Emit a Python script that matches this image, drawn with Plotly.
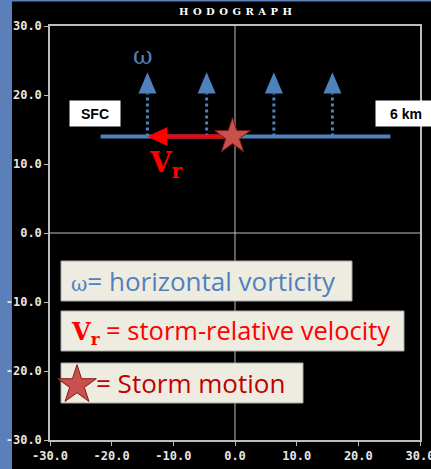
import plotly.graph_objects as go

# ---------------- data ----------------
x_ticks = [-30, -20, -10, 0, 10, 20, 30]
y_ticks = [-30, -20, -10, 0, 10, 20, 30]
tick_labels_x = ["-30.0", "-20.0", "-10.0", "0.0", "10.0", "20.0", "30.0"]
tick_labels_y = ["-30.0", "-20.0", "-10.0", "0.0", "10.0", "20.0", "30.0"]

hodo_x = [-21.8, 25.2]          # straight-line hodograph (SFC -> 6 km)
hodo_y = [14.0, 14.0]

vort_x = [-14.2, -4.6, 6.3, 15.8]   # horizontal vorticity vectors
vort_base = 14.0
vort_top = 20.2
vort_tip = 23.3

storm_x = [-0.4]
storm_y = [14.0]

vr_tip_x = -14.2                 # storm-relative velocity arrow tip

# ---------------- geometry ----------------
W, H = 431, 469
ML, MR, MT, MB = 50, 11, 26, 29
PW, PH = W - ML - MR, H - MT - MB
XR = [-30, 30]
YR = [-30, 30]
px_x = PW / (XR[1] - XR[0])
px_y = PH / (YR[1] - YR[0])


def px2paper_x(p):
    return (p - ML) / PW


def px2paper_y(p):
    return 1 - (p - MT) / PH


BLUE = "#4f81bd"
RED = "#ff0000"
DARKRED = "#c00000"
AXC = "#bdbdbd"

fig = go.Figure()

# hodograph line
fig.add_trace(go.Scatter(x=hodo_x, y=hodo_y, mode="lines",
                         line=dict(color=BLUE, width=4), hoverinfo="skip"))

# vorticity arrows: dotted shafts + triangular heads
head_hw = 9 / px_x
for vx in vort_x:
    fig.add_trace(go.Scatter(x=[vx, vx], y=[vort_base, vort_top], mode="lines",
                             line=dict(color=BLUE, width=3, dash="dot"),
                             hoverinfo="skip"))
    fig.add_trace(go.Scatter(x=[vx - head_hw, vx + head_hw, vx, vx - head_hw],
                             y=[vort_top, vort_top, vort_tip, vort_top],
                             mode="lines", fill="toself", fillcolor=BLUE,
                             line=dict(color=BLUE, width=0), hoverinfo="skip"))

# storm-relative velocity arrow
vr_head_len = 20 / px_x
vr_head_hh = 9.5 / px_y
fig.add_trace(go.Scatter(x=[storm_x[0], vr_tip_x + vr_head_len], y=[storm_y[0], storm_y[0]],
                         mode="lines", line=dict(color=RED, width=4), hoverinfo="skip"))
fig.add_trace(go.Scatter(x=[vr_tip_x + vr_head_len, vr_tip_x + vr_head_len, vr_tip_x, vr_tip_x + vr_head_len],
                         y=[storm_y[0] - vr_head_hh, storm_y[0] + vr_head_hh, storm_y[0], storm_y[0] - vr_head_hh],
                         mode="lines", fill="toself", fillcolor=RED,
                         line=dict(color=RED, width=0), hoverinfo="skip"))

# storm motion star
fig.add_trace(go.Scatter(x=storm_x, y=storm_y, mode="markers",
                         marker=dict(symbol="star", size=27, color="#c9504c",
                                     line=dict(color="#7a1c1a", width=1)),
                         hoverinfo="skip"))

shapes = []
# side strips
shapes.append(dict(type="rect", xref="paper", yref="paper",
                   x0=px2paper_x(0), x1=px2paper_x(12), y0=px2paper_y(H), y1=px2paper_y(0),
                   fillcolor="#5b80b9", line=dict(width=0), layer="below"))
shapes.append(dict(type="rect", xref="paper", yref="paper",
                   x0=px2paper_x(0), x1=px2paper_x(W), y0=px2paper_y(1.5), y1=px2paper_y(0),
                   fillcolor="#5b80b9", line=dict(width=0), layer="below"))
# zero lines
shapes.append(dict(type="line", xref="x", yref="paper", x0=0, x1=0, y0=0, y1=1,
                   line=dict(color=AXC, width=1), layer="below"))
shapes.append(dict(type="line", xref="paper", yref="y", x0=0, x1=1, y0=0, y1=0,
                   line=dict(color=AXC, width=1), layer="below"))

# legend boxes (pixel layout)
boxes = [(61, 352, 261, 301), (61, 404, 311, 351), (61, 303, 363, 403)]
for (bx0, bx1, by0, by1) in boxes:
    shapes.append(dict(type="rect", xref="paper", yref="paper",
                       x0=px2paper_x(bx0), x1=px2paper_x(bx1),
                       y0=px2paper_y(by1), y1=px2paper_y(by0),
                       fillcolor="#eeece1", line=dict(color="#a6a6a6", width=1),
                       layer="below"))

# legend star
fig.add_trace(go.Scatter(x=[px2paper_x(77)], y=[px2paper_y(385)], xaxis="x2", yaxis="y2",
                         mode="markers",
                         marker=dict(symbol="star", size=29, color="#c9504c",
                                     line=dict(color="#7a1c1a", width=1)),
                         hoverinfo="skip"))

annotations = []
SANS = "Open Sans"
annotations.append(dict(xref="paper", yref="paper", x=px2paper_x(69), y=px2paper_y(281),
                        xanchor="left", yanchor="middle", showarrow=False,
                        text="<span style='font-family:DejaVu Serif;font-size:20px'>ω</span>= horizontal vorticity",
                        font=dict(family=SANS, size=26, color=BLUE)))
annotations.append(dict(xref="paper", yref="paper", x=px2paper_x(69), y=px2paper_y(331),
                        xanchor="left", yanchor="middle", showarrow=False,
                        text="<span style='font-family:DejaVu Serif;font-weight:bold;font-size:24px'>V<sub>r</sub></span> = storm-relative velocity",
                        font=dict(family=SANS, size=25.5, color=RED)))
annotations.append(dict(xref="paper", yref="paper", x=px2paper_x(94), y=px2paper_y(383),
                        xanchor="left", yanchor="middle", showarrow=False,
                        text="= Storm motion",
                        font=dict(family=SANS, size=26, color=DARKRED)))

# plot labels
annotations.append(dict(x=-15, y=25.6, xref="x", yref="y", showarrow=False,
                        text="ω", font=dict(family="DejaVu Serif", size=24, color=BLUE)))
annotations.append(dict(x=-11.2, y=10.0, xref="x", yref="y", showarrow=False,
                        text="<b>V<sub>r</sub></b>",
                        font=dict(family="DejaVu Serif", size=28, color=RED)))
annotations.append(dict(x=-22.7, y=17.3, xref="x", yref="y", showarrow=False,
                        text="<b>SFC</b>", width=48, height=23, bgcolor="white",
                        font=dict(family="Liberation Sans", size=14, color="black")))
annotations.append(dict(x=27.7, y=17.3, xref="x", yref="y", showarrow=False,
                        text="<b>6 km</b>", width=58, height=23, bgcolor="white",
                        font=dict(family="Liberation Sans", size=14, color="black")))
# title
annotations.append(dict(x=0, y=px2paper_y(11), xref="x", yref="paper", showarrow=False,
                        yanchor="middle",
                        text="<b>" + "\u00a0\u200a".join(list("HODOGRAPH")) + "</b>",
                        font=dict(family="DejaVu Serif", size=10, color="white")))

tickfont = dict(family="DejaVu Sans Mono", size=12, color="#e6e6e6", weight="bold")
fig.update_layout(
    width=W, height=H,
    margin=dict(l=ML, r=MR, t=MT, b=MB, pad=0, autoexpand=False),
    paper_bgcolor="#000000", plot_bgcolor="#000000",
    showlegend=False,
    shapes=shapes, annotations=annotations,
    xaxis=dict(range=XR, tickvals=x_ticks, ticktext=tick_labels_x, showgrid=False,
               zeroline=False, showline=True, mirror=True, linecolor=AXC, linewidth=1.5,
               ticks="outside", ticklen=4, tickcolor=AXC, tickfont=tickfont,
               ticklabeloverflow="allow", ticklabelstandoff=0, automargin=False,
               fixedrange=True),
    yaxis=dict(range=YR, tickvals=y_ticks, ticktext=tick_labels_y, showgrid=False,
               zeroline=False, showline=True, mirror=True, linecolor=AXC, linewidth=1.5,
               ticks="outside", ticklen=4, tickcolor=AXC, tickfont=tickfont,
               ticklabeloverflow="allow", ticklabelstandoff=0, automargin=False,
               fixedrange=True),
    xaxis2=dict(range=[0, 1], domain=[0, 1], visible=False, overlaying="x", fixedrange=True),
    yaxis2=dict(range=[0, 1], domain=[0, 1], visible=False, overlaying="y", fixedrange=True),
)

fig.write_html("out.html", config={"displayModeBar": False},
               post_script="document.body.style.margin='0px';document.body.style.overflow='hidden';")
